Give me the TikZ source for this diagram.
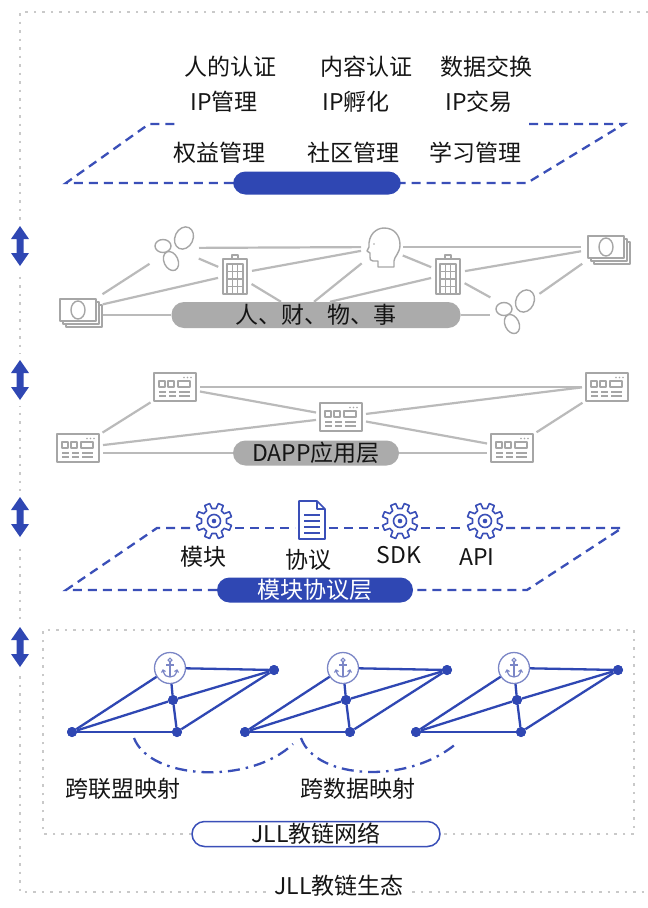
\documentclass[tikz,border=0pt]{standalone}
\usepackage{fontspec}
\setmainfont{Noto Sans CJK SC}
\usetikzlibrary{calc}

\definecolor{jblue}{HTML}{2F47B3}
\definecolor{jdash}{HTML}{3A4FB8}
\definecolor{lineg}{HTML}{BABABA}
\definecolor{icong}{HTML}{A6A6A6}
\definecolor{pillg}{HTML}{ABABAB}
\definecolor{frameg}{HTML}{C9C9C9}
\definecolor{anch}{HTML}{7B86C6}
\definecolor{txt}{HTML}{151515}

\tikzset{
  lbl/.style={font=\fontsize{23}{26}\selectfont, text=txt, inner sep=0pt},
  frame/.style={draw=frameg, line width=1.6pt, dash pattern=on 2.5pt off 6pt},
  bdash/.style={draw=jdash, line width=2.3pt, dash pattern=on 9pt off 6pt},
  gline/.style={draw=lineg, line width=2.2pt, shorten >=3pt, shorten <=3pt},
  bline/.style={draw=jblue, line width=2.3pt},
  hit/.style={inner sep=0pt, outer sep=0pt, draw=none},
  pillgray/.style={lbl, fill=pillg, rounded corners=12.5pt, minimum height=25pt},
  pillblue/.style={lbl, fill=jblue, text=white, rounded corners=12.5pt, minimum height=25pt},
  dot/.style={circle, fill=jblue, inner sep=0pt, minimum size=10pt},
  icon/.style={draw=icong, line width=1.4pt, line join=round},
  bicon/.style={draw=jdash, line width=1.6pt, line join=round},
  appicon/.pic={
    \draw[icon, fill=white] (-21,-14) rectangle (21,14);
    \foreach \d in {9,12.5,16} \fill[icong] (\d,-9.5) circle (0.9pt);
    \draw[icon, line width=1.1pt] (-16,-6) rectangle (-10,0);
    \draw[icon, line width=1.1pt] (-7,-6) rectangle (-1,0);
    \draw[icon, line width=1.1pt] (3,-6) rectangle (15,0);
    \foreach \yy in {5,9} {
      \draw[icon, line width=1.1pt] (-16,\yy) -- (-9,\yy);
      \draw[icon, line width=1.1pt] (-6,\yy) -- (1,\yy);
      \draw[icon, line width=1.1pt] (4,\yy) -- (15,\yy);
    }
  },
  money/.pic={
    \draw[icon, fill=white] (-12,-5) rectangle (24,17);
    \draw[icon, fill=white] (-15,-8) rectangle (21,14);
    \draw[icon, fill=white] (-18,-11) rectangle (18,11);
    \draw[icon] (0,0) ellipse [x radius=7, y radius=9];
  },
  pebbles/.pic={
    \draw[icon, rotate around={-25:(10,-10)}] (10,-10) ellipse [x radius=9, y radius=11.5];
    \draw[icon] (-11,-2) ellipse [x radius=8, y radius=6.5];
    \draw[icon, rotate around={25:(-3,13)}] (-3,13) ellipse [x radius=7, y radius=10];
  },
  building/.pic={
    \draw[icon] (-3,-19) rectangle (3,-15);
    \draw[icon] (-12,-15) rectangle (12,20);
    \draw[icon, line width=1.1pt] (-8,-10) rectangle (8,20);
    \foreach \xx in {-2.7,2.7} \draw[icon, line width=1.1pt] (\xx,-10) -- (\xx,20);
    \foreach \yy in {-2.5,5,12.5} \draw[icon, line width=1.1pt] (-8,\yy) -- (8,\yy);
  },
  head/.pic={
    \draw[icon] (-4,20) -- (-4,14) -- (-9,14)
      .. controls (-12,14) and (-12,12) .. (-12,10) -- (-12,6) -- (-15,4) -- (-13,0)
      .. controls (-14,-12) and (-6,-19) .. (2,-19)
      .. controls (12,-19) and (18,-12) .. (18,-2)
      .. controls (18,6) and (12,10) .. (12,14) -- (12,20) -- cycle;
    \fill[icong] (-8,-3) circle (0.9pt);
  },
  gear/.pic={
    \draw[bicon] (0:12.5) \foreach \a in {0,45,...,315} {
        -- (\a+9:12.5) -- (\a+14:18) -- (\a+31:18) -- (\a+36:12.5) -- (\a+45:12.5) } -- cycle;
    \draw[bicon] (0,0) circle (6.5pt);
    \fill[jdash] (0,0) circle (2.3pt);
  },
  docicon/.pic={
    \draw[bicon, fill=white] (-13,-19) -- (5,-19) -- (13,-11) -- (13,19) -- (-13,19) -- cycle;
    \draw[bicon] (5,-19) -- (5,-11) -- (13,-11);
    \foreach \yy in {-5,1,7,13} \draw[bicon] (-8,\yy) -- (8,\yy);
  },
  anchorsign/.pic={
    \draw[anch, line width=1.2pt] (0,-8) circle (1.9pt);
    \draw[anch, line width=1.2pt] (0,-6) -- (0,9);
    \draw[anch, line width=1.2pt] (-4,-3) -- (4,-3);
    \draw[anch, line width=1.2pt] (-7,2) .. controls (-6,8) and (-3,9) .. (0,9)
      .. controls (3,9) and (6,8) .. (7,2);
    \draw[anch, line width=1.2pt] (-8.5,4.5) -- (-7,2) -- (-4.5,3.5);
    \draw[anch, line width=1.2pt] (8.5,4.5) -- (7,2) -- (4.5,3.5);
  },
  updown/.pic={
    \fill[white] (-10,-26) rectangle (10,26);
    \fill[jblue] (0,-20) -- (9,-7) -- (3.5,-7) -- (3.5,7) -- (9,7) -- (0,20)
      -- (-9,7) -- (-3.5,7) -- (-3.5,-7) -- (-9,-7) -- cycle;
  }
}

\begin{document}
\begin{tikzpicture}[x=1pt,y=-1pt]
\useasboundingbox (0,0) rectangle (648,908);
\fill[white] (0,0) rectangle (648,908);

% ---- outer ecosystem frame ----
\draw[frame] (648,12) -- (20,12) -- (20,892) -- (268,892);
\draw[frame] (412,892) -- (648,892);
\node[lbl] (eco) at (339,886) {JLL教链生态};

% ---- layer arrows ----
\foreach \yy/\nm in {246/ar1,380/ar2,517/ar3,647/ar4}
  \pic (\nm) at (20,\yy) {updown};

% ---- application plane ----
\node[lbl] (t1) at (230,67) {人的认证};
\node[lbl] (t2) at (366,67) {内容认证};
\node[lbl] (t3) at (486,67) {数据交换};
\node[lbl] (t4) at (224,102) {IP管理};
\node[lbl] (t5) at (356,102) {IP孵化};
\node[lbl] (t6) at (479,102) {IP交易};
\node[lbl] (t7) at (219,153) {权益管理};
\node[lbl] (t8) at (353,153) {社区管理};
\node[lbl] (t9) at (475,153) {学习管理};

\node[pillblue, minimum width=168pt, minimum height=23pt] (topbar) at (317,183) {};
\coordinate (pA) at (66,183);
\coordinate (pB) at (149,124);
\coordinate (pB2) at (178,124);
\coordinate (pC2) at (529,124);
\coordinate (pC) at (624,124);
\coordinate (pD) at (527,183);
\draw[bdash] (topbar.west) -- (pA) -- (pB) -- (pB2);
\draw[bdash] (pC2) -- (pC) -- (pD) -- (topbar.east);

% ---- people, money, things, affairs ----
\node[hit, minimum width=44pt, minimum height=46pt] (pbTL) at (174,248) {};
\node[hit, minimum width=36pt, minimum height=42pt] (head) at (382,247) {};
\node[hit, minimum width=44pt, minimum height=30pt] (mTR) at (606,247) {};
\node[hit, minimum width=28pt, minimum height=42pt] (b1) at (235,274) {};
\node[hit, minimum width=28pt, minimum height=42pt] (b2) at (448,274) {};
\node[hit, minimum width=44pt, minimum height=30pt] (mL) at (78,310) {};
\node[hit, minimum width=44pt, minimum height=46pt] (pbBR) at (515,311) {};
\node[pillgray, minimum width=289pt, minimum height=26pt] (pill1) at (316,315) {人、财、物、事};

\path (pill1.north) ++(-35,0) coordinate (p1a);
\path (pill1.north) ++(-2,0) coordinate (p1b);
\path (pill1.north) ++(14,0) coordinate (p1c);

\draw[gline] (mL) -- (pbTL);
\draw[gline] (mL) -- (b1);
\draw[gline, shorten <=0pt] (pill1.west) -- (pill1.west -| mL.east);
\draw[gline] (pbTL) -- (head);
\draw[gline] (pbTL) -- (b1);
\draw[gline] (b1) -- (head);
\draw[gline, shorten >=0pt] (b1) -- (p1a);
\draw[gline, shorten >=0pt] (head) -- (p1b);
\draw[gline] (head) -- (b2);
\draw[gline] (head) -- (mTR);
\draw[gline, shorten >=0pt] (b2) -- (p1c);
\draw[gline] (b2) -- (mTR);
\draw[gline] (b2) -- (pbBR);
\draw[gline] (mTR) -- (pbBR);
\draw[gline, shorten <=0pt] (pill1.east) -- (pill1.east -| pbBR.west);

\pic at (pbTL) {pebbles};
\pic at (pbBR) {pebbles};
\pic at (head) {head};
\pic at (b1) {building};
\pic at (b2) {building};
\pic at (mTR) {money};
\pic at (mL) {money};

% ---- DAPP layer ----
\node[hit, minimum width=44pt, minimum height=30pt] (A1) at (175,387) {};
\node[hit, minimum width=44pt, minimum height=30pt] (A2) at (607,387) {};
\node[hit, minimum width=44pt, minimum height=30pt] (A3) at (341,417) {};
\node[hit, minimum width=44pt, minimum height=30pt] (A4) at (78,448) {};
\node[hit, minimum width=44pt, minimum height=30pt] (A5) at (512,448) {};
\node[pillgray, minimum width=166pt] (pill2) at (316,453) {DAPP应用层};

\draw[gline] (A1.east) -- (A2.west);
\draw[gline] (A1) -- (A3);
\draw[gline] (A3) -- (A2.west);
\draw[gline] (A1) -- (A4);
\draw[gline] (A4) -- (A3);
\draw[gline, shorten <=0pt] (pill2.west) -- (pill2.west -| A4.east);
\draw[gline] (A3) -- (A5);
\draw[gline] (A5) -- (A2);
\draw[gline, shorten <=0pt] (pill2.east) -- (pill2.east -| A5.west);

\foreach \n in {A1,A2,A3,A4,A5} \pic at (\n) {appicon};

% ---- module / protocol layer ----
\node[hit, circle, minimum size=42pt] (g1) at (214,521) {};
\node[hit, minimum width=34pt, minimum height=40pt] (doc) at (312,520) {};
\node[hit, circle, minimum size=42pt] (g2) at (400,521) {};
\node[hit, circle, minimum size=42pt] (g3) at (485,521) {};
\node[pillblue, minimum width=196pt] (pill3) at (315,590) {模块协议层};

\coordinate (qA) at (66,590);
\coordinate (qB) at (157,528);
\coordinate (qC) at (622,528);
\coordinate (qD) at (527,590);
\draw[bdash] (pill3.west) -- (qA) -- (qB) -- (g1.west |- qB);
\draw[bdash] (g1.east |- qB) -- (doc.west |- qB);
\draw[bdash] (doc.east |- qB) -- (g2.west |- qB);
\draw[bdash] (g2.east |- qB) -- (g3.west |- qB);
\draw[bdash] (g3.east |- qB) -- (qC) -- (qD) -- (pill3.east);

\pic at (g1) {gear};
\pic at (doc) {docicon};
\pic at (g2) {gear};
\pic at (g3) {gear};

\node[lbl] (m1) at (203,557) {模块};
\node[lbl] (m2) at (308,560) {协议};
\node[lbl] (m3) at (399,555) {SDK};
\node[lbl] (m4) at (477,557) {API};

% ---- chain network ----
\node[lbl, draw=jdash, line width=1.5pt, fill=white, rounded corners=12.5pt,
      minimum width=248pt, minimum height=25pt] (net) at (316,834) {JLL教链网络};
\draw[frame] (net.west) -- (43,834) -- (43,630) -- (634,630) -- (634,834) -- (net.east);

\foreach \i/\x in {1/170,2/343,3/514} {
  \node[dot] (r\i) at (\x+104,670) {};
  \node[dot] (l\i) at (\x-98,732) {};
  \node[dot] (b\i) at (\x+7,732) {};
  \node[dot] (c\i) at (\x+3,700) {};
  \node[circle, draw=anch, line width=1.3pt, fill=white, minimum size=31pt, inner sep=0pt]
    (k\i) at (\x,668) {};
  \draw[bline] (k\i) -- (r\i);
  \draw[bline] (k\i) -- (l\i);
  \draw[bline] (k\i) -- (c\i);
  \draw[bline] (c\i) -- (b\i);
  \draw[bline] (l\i) -- (b\i);
  \draw[bline] (l\i) -- (c\i);
  \draw[bline] (c\i) -- (r\i);
  \draw[bline] (r\i) -- (b\i);
  \node[dot] at (r\i) {};
  \node[dot] at (l\i) {};
  \node[dot] at (b\i) {};
  \node[dot] at (c\i) {};
  \pic at (k\i) {anchorsign};
}

\coordinate (m1s) at (134,738);
\coordinate (m1e) at (293,744);
\coordinate (m2s) at (301,738);
\coordinate (m2e) at (458,742);
\draw[draw=jdash, line width=2.3pt, dash pattern=on 12pt off 6pt on 2.5pt off 6pt]
  (m1s) .. controls (150,780) and (250,785) .. (m1e);
\draw[draw=jdash, line width=2.3pt, dash pattern=on 12pt off 6pt on 2.5pt off 6pt]
  (m2s) .. controls (316,780) and (410,785) .. (m2e);

\node[lbl] (map1) at (123,789) {跨联盟映射};
\node[lbl] (map2) at (358,789) {跨数据映射};

\end{tikzpicture}
\end{document}
